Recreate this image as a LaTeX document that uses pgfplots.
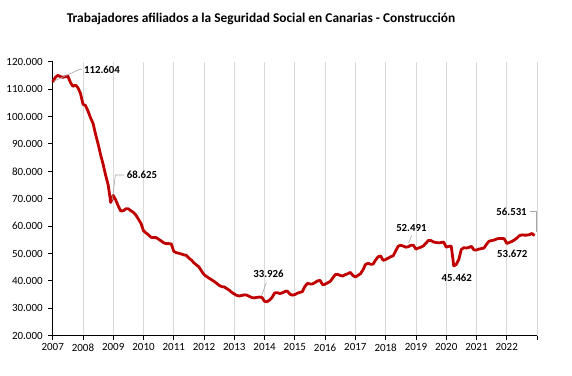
\documentclass[border=0pt]{standalone}
\usepackage{pgfplots}
\pgfplotsset{compat=1.18}
\usepackage{pgfplotstable}
\usepackage{fontspec}
\setmainfont{Carlito}
\definecolor{linered}{HTML}{C00000}
\definecolor{gridgray}{HTML}{D9D9D9}
\definecolor{leadergray}{HTML}{A6A6A6}
\pgfplotstableread{
v
112.604
114.2
115.0
114.6
114.3
114.5
114.8
112.5
111.0
111.5
110.5
108.5
104.5
104.0
102.0
99.5
97.5
93.5
90.0
86.0
82.5
78.5
75.0
68.625
71.2
69.5
67.3
65.5
65.6
66.3
66.3
65.6
65.0
64.0
62.5
61.0
58.3
57.5
56.8
55.9
55.8
55.8
55.2
54.6
53.9
53.6
53.6
53.5
50.8
50.3
50.1
49.8
49.5
49.3
48.3
47.6
46.6
45.8
45.1
43.6
42.3
41.6
41.0
40.4
39.8
39.1
38.4
37.9
37.8
37.2
36.6
35.8
35.2
34.7
34.5
34.7
34.9
34.8
34.3
33.9
33.8
34.0
34.1
33.926
32.5
32.4
33.0
34.0
35.6
35.7
35.4
35.6
36.1
36.3
35.2
34.8
35.0
35.5
35.8
36.1
38.0
39.1
38.9
38.9
39.4
40.0
40.2
38.6
38.8
39.3
39.8
41.0
42.3
42.4
42.0
41.8
42.3
42.6
43.1
42.0
41.4
42.0
42.6
44.0
46.0
46.4
46.1
46.1
47.6
48.8
49.1
47.5
47.8
48.3
48.8
49.2
51.0
52.7
53.0
52.7
52.3
52.491
53.0
53.0
51.6
52.0
52.3
52.8
53.8
54.8
54.7
54.2
54.0
53.9
54.0
54.2
52.3
52.6
52.7
45.462
46.0
47.8
51.5
52.1
52.0
52.2
52.6
51.3
51.3
51.6
51.8
52.0
53.4
54.5
54.7
54.9
55.3
55.5
55.5
55.4
53.672
54.0
54.4
54.9
55.6
56.5
56.8
56.7
56.7
56.9
57.3
56.531
}\datatable
\begin{document}
\begin{tikzpicture}
\begin{axis}[
  scale only axis,
  width=484.3pt, height=274pt,
  xmin=2007, xmax=2023, ymin=20, ymax=120,
  axis lines=left,
  axis line style={-, black, line width=0.8pt},
  xtick={2007,2008,...,2023},
  xticklabels={2007,2008,2009,2010,2011,2012,2013,2014,2015,2016,2017,2018,2019,2020,2021,2022,{}},
  ytick={20,30,...,120},
  yticklabels={20.000,30.000,40.000,50.000,60.000,70.000,80.000,90.000,100.000,110.000,120.000},
  tick align=outside,
  major tick length=4.5pt,
  tick style={black, line width=0.8pt},
  xmajorgrids,
  grid style={gridgray, line width=0.8pt},
  ticklabel style={font=\fontsize{11}{13}\selectfont, black},
  yticklabel style={xshift=-2pt},
  clip=false,
]
\addplot[linered, line width=2.8pt, line join=round] table[x expr=2007+\coordindex/12, y=v] {\datatable};

\draw[leadergray, line width=0.6pt] (axis cs:2007.04,112.9) -- (axis cs:2007.90,117.25) -- (axis cs:2007.97,117.25);
\draw[leadergray, line width=0.6pt] (axis cs:2008.97,69.5) -- (axis cs:2009.07,78.65) -- (axis cs:2009.35,78.65);
\draw[leadergray, line width=0.6pt] (axis cs:2013.90,34.6) -- (axis cs:2014.06,39.4);
\draw[leadergray, line width=0.6pt] (axis cs:2018.76,53.9) -- (axis cs:2018.86,56.6);
\draw[leadergray, line width=0.6pt] (axis cs:2022.77,65.26) -- (axis cs:2022.97,65.26) -- (axis cs:2022.97,57.9);

\tikzset{lbl/.style={font=\bfseries\fontsize{10.8}{12}\selectfont, black, inner sep=0pt}}
\node[lbl] at (axis cs:2008.63,116.97) {112.604};
\node[lbl] at (axis cs:2009.95,78.65) {68.625};
\node[lbl] at (axis cs:2014.13,42.52) {33.926};
\node[lbl] at (axis cs:2018.85,59.3) {52.491};
\node[lbl] at (axis cs:2020.35,41.06) {45.462};
\node[lbl] at (axis cs:2022.18,49.82) {53.672};
\node[lbl] at (axis cs:2022.16,65.26) {56.531};

\node[font=\bfseries\fontsize{13.4}{15}\selectfont, black] at ([yshift=42.7pt]rel axis cs:0.4301,1) {Trabajadores afiliados a la Seguridad Social en Canarias - Construcción};
\end{axis}
\pgfresetboundingbox
\path ([shift={(-52.7pt,-40.3pt)}]current axis.south west) rectangle ([shift={(35pt,61.7pt)}]current axis.north east);
\end{tikzpicture}
\end{document}
